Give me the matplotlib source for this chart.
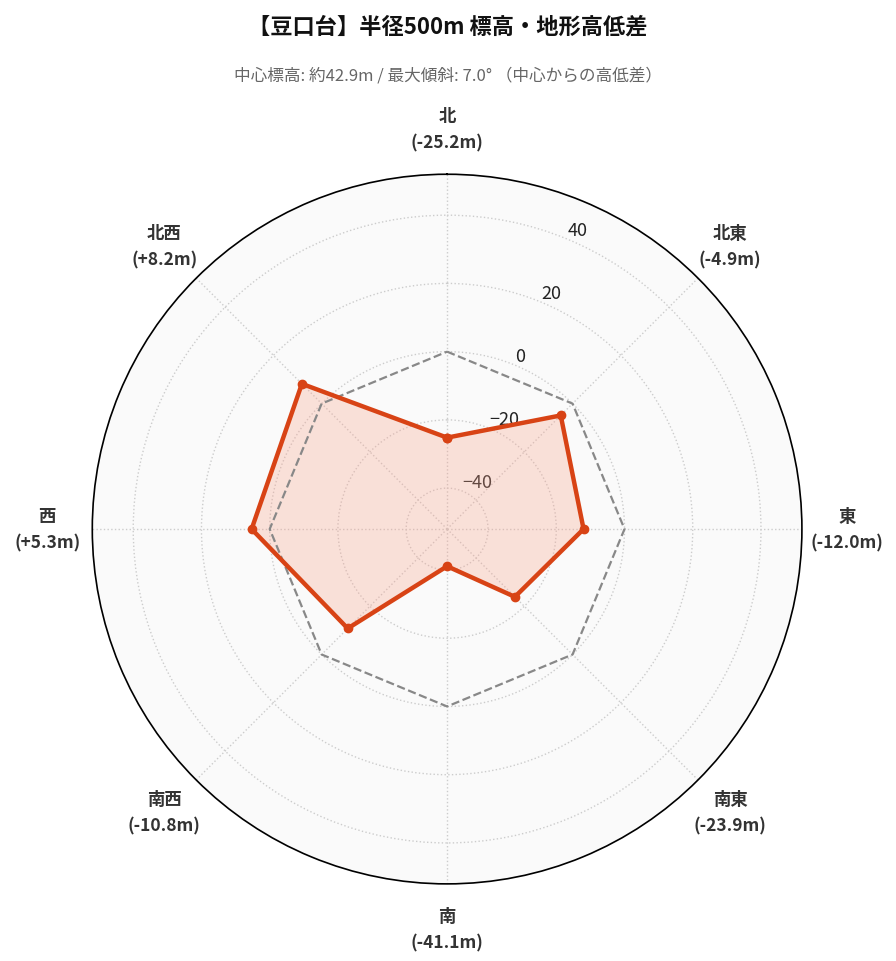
import numpy as np
import matplotlib
matplotlib.use("Agg")
import matplotlib.pyplot as plt

plt.rcParams['font.family'] = ['Noto Sans CJK JP', 'DejaVu Sans']

directions = ['北', '北東', '東', '南東', '南', '南西', '西', '北西']
diffs = [-25.2, -4.9, -12.0, -23.9, -41.1, -10.8, 5.3, 8.2]
rticks = [-40, -20, 0, 20, 40]

fig = plt.figure(figsize=(8.96, 9.62), dpi=100)
ax = fig.add_axes([0.103, 0.080, 0.792, 0.738], projection='polar')
ax.set_theta_zero_location('N')
ax.set_theta_direction(-1)
ax.set_facecolor('#fafafa')

theta = np.deg2rad(np.arange(len(directions)) * 45)
tc = np.append(theta, theta[0])
vals = np.append(diffs, diffs[0])
zero = np.zeros_like(tc)

ax.plot(tc, zero, '--', color='#888888', lw=1.6, zorder=3)
ax.fill(tc, vals, color='#f9a48c', alpha=0.3, zorder=2)
ax.plot(tc, vals, '-o', color='#d84315', lw=3.2, ms=6, zorder=4)

ax.set_ylim(-52, 52)
ax.set_yticks(rticks)
ax.set_yticklabels([str(t).replace('-', '\u2212') for t in rticks], fontsize=13, color='#222222')
ax.set_rlabel_position(22.5)
ax.set_xticks(theta)
ax.set_xticklabels([f"{d}\n({v:+.1f}m)".replace('+-', '-') for d, v in zip(directions, diffs)],
                   fontsize=12.5, fontweight='bold', color='#333333', linespacing=1.6)
ax.tick_params(axis='x', pad=22)
ax.grid(True, color='#cccccc', linestyle=':', lw=1)
ax.spines['polar'].set_color('black')
ax.spines['polar'].set_linewidth(1.2)

fig.text(0.5, 0.972, '【豆口台】半径500m 標高・地形高低差', ha='center', va='center',
         fontsize=16, fontweight='bold', color='#111111')
fig.text(0.5, 0.921, '中心標高: 約42.9m / 最大傾斜: 7.0° （中心からの高低差）', ha='center', va='center',
         fontsize=12, color='#666666')

fig.savefig('out.png', dpi=100)
